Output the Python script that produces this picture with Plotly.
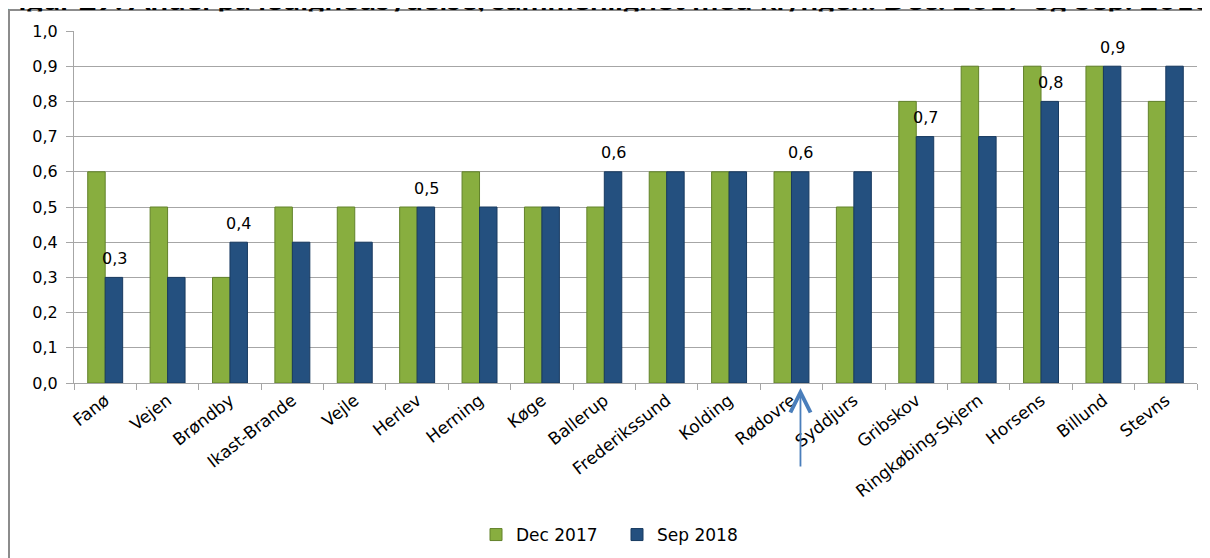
import plotly.graph_objects as go

categories = ["Fanø", "Vejen", "Brøndby", "Ikast-Brande", "Vejle", "Herlev", "Herning", "Køge",
              "Ballerup", "Frederikssund", "Kolding", "Rødovre", "Syddjurs", "Gribskov",
              "Ringkøbing-Skjern", "Horsens", "Billund", "Stevns"]
dec_2017 = [0.6, 0.5, 0.3, 0.5, 0.5, 0.5, 0.6, 0.5, 0.5, 0.6, 0.6, 0.6, 0.5, 0.8, 0.9, 0.9, 0.9, 0.8]
sep_2018 = [0.3, 0.3, 0.4, 0.4, 0.4, 0.5, 0.5, 0.5, 0.6, 0.6, 0.6, 0.6, 0.6, 0.7, 0.7, 0.8, 0.9, 0.9]
labeled = [1, 0, 1, 0, 0, 1, 0, 0, 1, 0, 0, 1, 0, 1, 0, 1, 1, 0]
series_names = ["Dec 2017", "Sep 2018"]
title_text = "Figur 29: Andel på ledighedsydelse, sammenlignet med klyngen. Dec. 2017 og Sep. 2018"
arrow_category = "Rødovre"

OFF = 8  # page offset of the plot div (body margin)
W, H = 1210 - OFF, 558 - OFF
L = 74 - OFF
T = 31 - OFF
R = W - (1197 - OFF)
B = H - (383 - OFF)
pw, ph = W - L - R, H - T - B

def px_x(p):  # page pixel -> paper x
    return (p - OFF - L) / pw

def px_y(p):  # page pixel -> paper y
    return (H - B - (p - OFF)) / ph

FONT = "DejaVu Sans"

fig = go.Figure()
fig.add_trace(go.Bar(x=categories, y=dec_2017, name=series_names[0],
                     marker=dict(color="#88ae3f", line=dict(color="#62822a", width=1))))
fig.add_trace(go.Bar(x=categories, y=sep_2018, name=series_names[1],
                     marker=dict(color="#24507f", line=dict(color="#183a60", width=1))))

annotations = []
# title (partly hidden, as in the reference)
annotations.append(dict(x=px_x(0), y=px_y(18), xref="paper", yref="paper", xanchor="left",
                        yanchor="bottom", text=f"<b>{title_text}</b>", showarrow=False,
                        borderpad=0, font=dict(family="Lato", size=31, color="#000")))
# white strip hiding the lower part of the title
annotations.append(dict(x=px_x(10), y=px_y(11), xref="paper", yref="paper", xanchor="left",
                        yanchor="top", text=" ", showarrow=False, width=1200, height=11,
                        borderpad=0, bgcolor="white"))

for c, v, f in zip(categories, sep_2018, labeled):
    if f:
        annotations.append(dict(x=c, y=v, xref="x", yref="y", text=f"{v:.1f}".replace(".", ","),
                                showarrow=False, xshift=9, yshift=19, yanchor="middle",
                                font=dict(family=FONT, size=16, color="#000")))

annotations.append(dict(x=arrow_category, y=0, xref="x", yref="y", xshift=9, yshift=-5,
                        text="", showarrow=True, ax=0, ay=80, arrowhead=5, arrowsize=2.2,
                        arrowwidth=1.8, arrowcolor="#4a7ebb"))

fig.update_layout(
    width=W, height=H,
    margin=dict(l=L, r=R, t=T, b=B, autoexpand=False),
    paper_bgcolor="white", plot_bgcolor="white",
    separators=", ",
    bargap=0.44, bargroupgap=0,
    barmode="group",
    font=dict(family=FONT, size=16, color="#000"),
    showlegend=True,
    legend=dict(orientation="h", x=px_x(476), xanchor="left", y=px_y(535), yanchor="middle",
                font=dict(family=FONT, size=17, color="#000"), itemwidth=30,
                entrywidth=96, entrywidthmode="pixels"),
    annotations=annotations,
    shapes=[dict(type="rect", xref="paper", yref="paper", x0=px_x(9), x1=px_x(1214),
                 y0=px_y(562), y1=px_y(10), line=dict(color="#8c8c8c", width=2), layer="below")],
)
fig.update_yaxes(range=[0, 1.0], dtick=0.1, tickformat=".1f", showgrid=True, gridcolor="#a6a6a6",
                 gridwidth=1, showline=True, linecolor="#a6a6a6", ticks="outside", ticklen=7,
                 tickcolor="#a6a6a6", tickfont=dict(family=FONT, size=16), zeroline=False,
                 automargin=False, ticksuffix="\u00a0")
fig.update_xaxes(showline=True, linecolor="#a6a6a6", ticks="outside", ticklen=6, tickcolor="#a6a6a6",
                 tickson="boundaries", tickangle=-38, tickfont=dict(family=FONT, size=17),
                 automargin=False)

fig.write_html("out.html")
